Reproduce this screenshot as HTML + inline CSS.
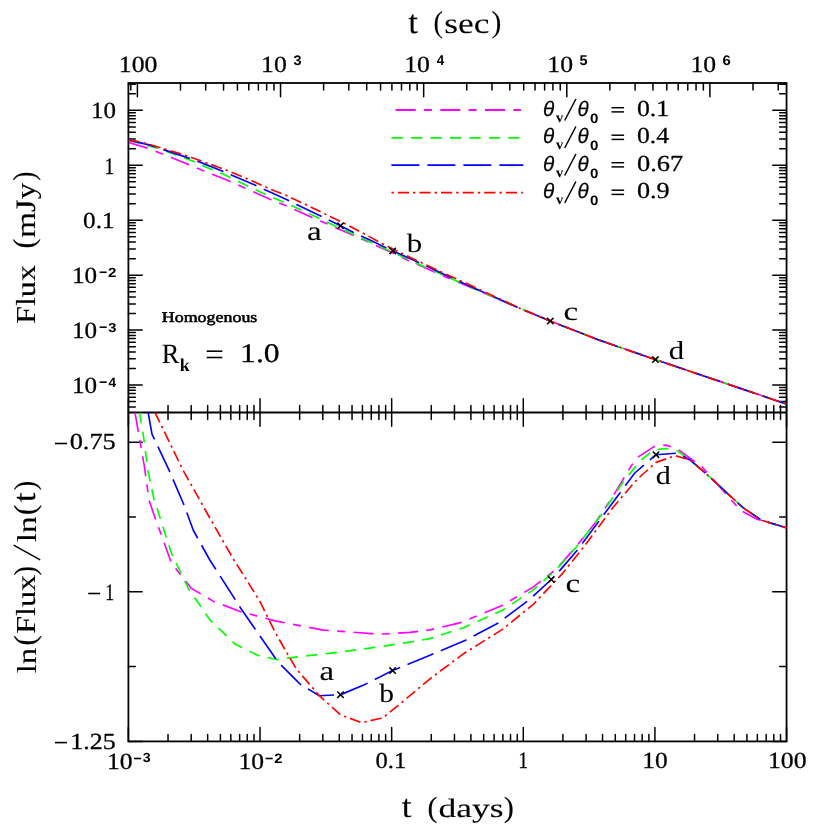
<!DOCTYPE html>
<html><head><meta charset="utf-8"><title>Light curves</title>
<style>html,body{margin:0;padding:0;background:#fff}svg{display:block}
text{fill:#000;text-rendering:geometricPrecision}
.s,.sb{font-family:"Liberation Serif",serif}.n,.nb,.ni{font-family:"Liberation Sans",sans-serif}
.sb,.nb{font-weight:bold}.ni{font-style:italic}</style></head>
<body><svg width="830" height="830" viewBox="0 0 830 830">
<rect width="830" height="830" fill="#fff"/>
<defs><clipPath id="ct"><rect x="128.4" y="83.0" width="658.15" height="329.50"/></clipPath>
<clipPath id="cb"><rect x="128.4" y="412.5" width="658.15" height="328.90"/></clipPath></defs>
<g style="opacity:0.999">
<rect x="128.4" y="83.0" width="658.15" height="658.40" fill="none" stroke="#000" stroke-width="1.8"/>
<line x1="128.40" y1="412.50" x2="786.55" y2="412.50" stroke="#000" stroke-width="1.8"/>
<path d="M128.40 741.40L128.40 727.60M128.40 398.70L128.40 426.30M168.02 741.40L168.02 734.50M168.02 405.60L168.02 419.40M191.20 741.40L191.20 734.50M191.20 405.60L191.20 419.40M207.65 741.40L207.65 734.50M207.65 405.60L207.65 419.40M220.41 741.40L220.41 734.50M220.41 405.60L220.41 419.40M230.83 741.40L230.83 734.50M230.83 405.60L230.83 419.40M239.64 741.40L239.64 734.50M239.64 405.60L239.64 419.40M247.27 741.40L247.27 734.50M247.27 405.60L247.27 419.40M254.01 741.40L254.01 734.50M254.01 405.60L254.01 419.40M260.03 741.40L260.03 727.60M260.03 398.70L260.03 426.30M299.65 741.40L299.65 734.50M299.65 405.60L299.65 419.40M322.83 741.40L322.83 734.50M322.83 405.60L322.83 419.40M339.28 741.40L339.28 734.50M339.28 405.60L339.28 419.40M352.04 741.40L352.04 734.50M352.04 405.60L352.04 419.40M362.46 741.40L362.46 734.50M362.46 405.60L362.46 419.40M371.27 741.40L371.27 734.50M371.27 405.60L371.27 419.40M378.90 741.40L378.90 734.50M378.90 405.60L378.90 419.40M385.64 741.40L385.64 734.50M385.64 405.60L385.64 419.40M391.66 741.40L391.66 727.60M391.66 398.70L391.66 426.30M431.28 741.40L431.28 734.50M431.28 405.60L431.28 419.40M454.46 741.40L454.46 734.50M454.46 405.60L454.46 419.40M470.91 741.40L470.91 734.50M470.91 405.60L470.91 419.40M483.67 741.40L483.67 734.50M483.67 405.60L483.67 419.40M494.09 741.40L494.09 734.50M494.09 405.60L494.09 419.40M502.90 741.40L502.90 734.50M502.90 405.60L502.90 419.40M510.53 741.40L510.53 734.50M510.53 405.60L510.53 419.40M517.27 741.40L517.27 734.50M517.27 405.60L517.27 419.40M523.29 741.40L523.29 727.60M523.29 398.70L523.29 426.30M562.91 741.40L562.91 734.50M562.91 405.60L562.91 419.40M586.09 741.40L586.09 734.50M586.09 405.60L586.09 419.40M602.54 741.40L602.54 734.50M602.54 405.60L602.54 419.40M615.30 741.40L615.30 734.50M615.30 405.60L615.30 419.40M625.72 741.40L625.72 734.50M625.72 405.60L625.72 419.40M634.53 741.40L634.53 734.50M634.53 405.60L634.53 419.40M642.16 741.40L642.16 734.50M642.16 405.60L642.16 419.40M648.90 741.40L648.90 734.50M648.90 405.60L648.90 419.40M654.92 741.40L654.92 727.60M654.92 398.70L654.92 426.30M694.54 741.40L694.54 734.50M694.54 405.60L694.54 419.40M717.72 741.40L717.72 734.50M717.72 405.60L717.72 419.40M734.17 741.40L734.17 734.50M734.17 405.60L734.17 419.40M746.93 741.40L746.93 734.50M746.93 405.60L746.93 419.40M757.35 741.40L757.35 734.50M757.35 405.60L757.35 419.40M766.16 741.40L766.16 734.50M766.16 405.60L766.16 419.40M773.79 741.40L773.79 734.50M773.79 405.60L773.79 419.40M780.53 741.40L780.53 734.50M780.53 405.60L780.53 419.40M786.55 741.40L786.55 727.60M786.55 398.70L786.55 426.30M130.85 83.00L130.85 89.90M137.40 83.00L137.40 96.80M180.49 83.00L180.49 89.90M205.69 83.00L205.69 89.90M223.57 83.00L223.57 89.90M237.44 83.00L237.44 89.90M248.78 83.00L248.78 89.90M258.36 83.00L258.36 89.90M266.66 83.00L266.66 89.90M273.98 83.00L273.98 89.90M280.53 83.00L280.53 96.80M323.62 83.00L323.62 89.90M348.82 83.00L348.82 89.90M366.70 83.00L366.70 89.90M380.57 83.00L380.57 89.90M391.91 83.00L391.91 89.90M401.49 83.00L401.49 89.90M409.79 83.00L409.79 89.90M417.11 83.00L417.11 89.90M423.66 83.00L423.66 96.80M466.75 83.00L466.75 89.90M491.95 83.00L491.95 89.90M509.83 83.00L509.83 89.90M523.70 83.00L523.70 89.90M535.04 83.00L535.04 89.90M544.62 83.00L544.62 89.90M552.92 83.00L552.92 89.90M560.24 83.00L560.24 89.90M566.79 83.00L566.79 96.80M609.88 83.00L609.88 89.90M635.08 83.00L635.08 89.90M652.96 83.00L652.96 89.90M666.83 83.00L666.83 89.90M678.17 83.00L678.17 89.90M687.75 83.00L687.75 89.90M696.05 83.00L696.05 89.90M703.37 83.00L703.37 89.90M709.92 83.00L709.92 96.80M753.01 83.00L753.01 89.90M778.21 83.00L778.21 89.90M128.40 406.91L135.30 406.91M786.55 406.91L779.65 406.91M128.40 401.59L135.30 401.59M786.55 401.59L779.65 401.59M128.40 397.24L135.30 397.24M786.55 397.24L779.65 397.24M128.40 393.56L135.30 393.56M786.55 393.56L779.65 393.56M128.40 390.37L135.30 390.37M786.55 390.37L779.65 390.37M128.40 387.56L135.30 387.56M786.55 387.56L779.65 387.56M128.40 385.05L142.20 385.05M786.55 385.05L772.75 385.05M128.40 368.51L135.30 368.51M786.55 368.51L779.65 368.51M128.40 358.84L135.30 358.84M786.55 358.84L779.65 358.84M128.40 351.97L135.30 351.97M786.55 351.97L779.65 351.97M128.40 346.65L135.30 346.65M786.55 346.65L779.65 346.65M128.40 342.30L135.30 342.30M786.55 342.30L779.65 342.30M128.40 338.62L135.30 338.62M786.55 338.62L779.65 338.62M128.40 335.43L135.30 335.43M786.55 335.43L779.65 335.43M128.40 332.62L135.30 332.62M786.55 332.62L779.65 332.62M128.40 330.11L142.20 330.11M786.55 330.11L772.75 330.11M128.40 313.57L135.30 313.57M786.55 313.57L779.65 313.57M128.40 303.90L135.30 303.90M786.55 303.90L779.65 303.90M128.40 297.03L135.30 297.03M786.55 297.03L779.65 297.03M128.40 291.71L135.30 291.71M786.55 291.71L779.65 291.71M128.40 287.36L135.30 287.36M786.55 287.36L779.65 287.36M128.40 283.68L135.30 283.68M786.55 283.68L779.65 283.68M128.40 280.49L135.30 280.49M786.55 280.49L779.65 280.49M128.40 277.68L135.30 277.68M786.55 277.68L779.65 277.68M128.40 275.17L142.20 275.17M786.55 275.17L772.75 275.17M128.40 258.63L135.30 258.63M786.55 258.63L779.65 258.63M128.40 248.96L135.30 248.96M786.55 248.96L779.65 248.96M128.40 242.09L135.30 242.09M786.55 242.09L779.65 242.09M128.40 236.77L135.30 236.77M786.55 236.77L779.65 236.77M128.40 232.42L135.30 232.42M786.55 232.42L779.65 232.42M128.40 228.74L135.30 228.74M786.55 228.74L779.65 228.74M128.40 225.55L135.30 225.55M786.55 225.55L779.65 225.55M128.40 222.74L135.30 222.74M786.55 222.74L779.65 222.74M128.40 220.23L142.20 220.23M786.55 220.23L772.75 220.23M128.40 203.69L135.30 203.69M786.55 203.69L779.65 203.69M128.40 194.02L135.30 194.02M786.55 194.02L779.65 194.02M128.40 187.15L135.30 187.15M786.55 187.15L779.65 187.15M128.40 181.83L135.30 181.83M786.55 181.83L779.65 181.83M128.40 177.48L135.30 177.48M786.55 177.48L779.65 177.48M128.40 173.80L135.30 173.80M786.55 173.80L779.65 173.80M128.40 170.61L135.30 170.61M786.55 170.61L779.65 170.61M128.40 167.80L135.30 167.80M786.55 167.80L779.65 167.80M128.40 165.29L142.20 165.29M786.55 165.29L772.75 165.29M128.40 148.75L135.30 148.75M786.55 148.75L779.65 148.75M128.40 139.08L135.30 139.08M786.55 139.08L779.65 139.08M128.40 132.21L135.30 132.21M786.55 132.21L779.65 132.21M128.40 126.89L135.30 126.89M786.55 126.89L779.65 126.89M128.40 122.54L135.30 122.54M786.55 122.54L779.65 122.54M128.40 118.86L135.30 118.86M786.55 118.86L779.65 118.86M128.40 115.67L135.30 115.67M786.55 115.67L779.65 115.67M128.40 112.86L135.30 112.86M786.55 112.86L779.65 112.86M128.40 110.35L142.20 110.35M786.55 110.35L772.75 110.35M128.40 93.81L135.30 93.81M786.55 93.81L779.65 93.81M128.40 84.14L135.30 84.14M786.55 84.14L779.65 84.14M128.40 442.20L142.20 442.20M786.55 442.20L772.75 442.20M128.40 517.00L135.30 517.00M786.55 517.00L779.65 517.00M128.40 591.80L142.20 591.80M786.55 591.80L772.75 591.80M128.40 666.60L135.30 666.60M786.55 666.60L779.65 666.60M128.40 741.40L142.20 741.40M786.55 741.40L772.75 741.40" stroke="#000" stroke-width="1.5" stroke-linecap="round" fill="none"/>
<g clip-path="url(#cb)">
<path d="M135.0 412.3L139.5 438.9L144.3 465.9L149.1 500.6L155.8 519.9L163.6 541.1L170.3 560.0L176.1 569.0L191.5 588.5L213.7 601.4L240.7 611.7L275.0 620.9L323.2 630.1L371.4 633.6L383.0 634.0L409.9 632.4L430.0 629.9L459.7 622.9L502.1 605.5L533.0 587.2L556.3 569.2L575.8 546.9L594.3 524.1L613.6 495.2L630.9 466.3L638.6 456.6L654.0 446.6L665.6 445.1L677.2 448.9L690.0 458.2L701.6 466.4L714.0 480.3L731.4 500.3L741.1 510.7L757.5 519.4L761.6 520.3L785.4 527.5L786.8 527.8" fill="none" stroke="#ff00ff" stroke-width="1.65" stroke-dasharray="20 8.3 8 8.4" stroke-linejoin="round"/>
<path d="M139.5 412.3L143.3 435.1L148.1 471.7L153.9 498.7L162.6 525.7L171.3 552.7L179.0 569.0L188.6 588.9L209.8 619.8L234.9 643.9L258.0 655.4L277.3 659.7L286.6 658.1L332.8 652.9L371.4 647.9L409.9 642.1L430.0 638.6L463.6 627.7L502.1 610.4L533.0 590.1L556.3 569.6L575.8 547.6L600.1 516.4L623.2 481.7L640.5 460.5L654.0 449.9L665.6 448.5L677.2 450.8L690.0 459.9L709.9 477.1L729.8 495.7L743.0 507.6L761.6 520.2L785.4 527.5L786.8 527.8" fill="none" stroke="#00ff00" stroke-width="1.65" stroke-dasharray="11.3 8.2" stroke-linejoin="round"/>
<path d="M148.1 412.3L152.0 434.1L169.3 470.7L183.8 504.5L193.4 530.5L209.8 560.0L215.6 569.0L240.7 608.2L275.4 658.3L280.8 664.8L300.1 684.1L319.3 695.7L340.5 694.7L363.7 685.1L392.6 670.6L430.0 655.2L465.5 640.2L498.3 622.9L529.1 599.8L551.3 579.5L560.6 569.6L578.0 549.3L603.9 514.5L634.8 473.0L656.0 454.7L677.2 453.2L690.0 459.9L709.9 477.1L729.8 495.7L743.0 507.6L761.6 520.2L785.4 527.5L786.8 527.8" fill="none" stroke="#0000ff" stroke-width="1.65" stroke-dasharray="28 8" stroke-linejoin="round"/>
<path d="M154.9 412.3L182.8 469.8L209.8 518.0L233.9 560.0L239.7 569.0L259.9 601.4L275.0 632.0L285.0 649.6L296.2 668.7L319.3 695.7L340.5 714.9L361.7 722.7L383.0 717.8L409.9 695.7L430.0 678.8L463.6 653.7L502.1 629.6L533.0 604.6L561.7 574.4L584.5 546.0L613.6 506.7L636.7 479.8L656.0 462.4L675.2 455.7L690.0 459.9L709.9 477.1L729.8 495.7L743.0 507.6L761.6 520.2L785.4 527.5L786.8 527.8" fill="none" stroke="#ff0000" stroke-width="1.65" stroke-dasharray="11.2 4 2.4 4" stroke-linejoin="round"/>
</g><g clip-path="url(#ct)">
<path d="M128.6 142.5L146.7 147.9L162.3 153.9L187.7 164.2L203.3 170.8L225.0 179.2L270.0 199.3L285.7 205.6L311.0 217.0L337.5 228.4L351.9 234.7L370.0 242.6L407.2 259.9L446.9 277.4L465.0 285.0L521.4 309.0L550.3 321.1L600.0 340.4L655.4 359.6L785.5 403.7L786.8 404.1" fill="none" stroke="#ff00ff" stroke-width="1.65" stroke-dasharray="20 8.3 8 8.4" stroke-linejoin="round"/>
<path d="M128.6 140.3L156.3 147.9L173.2 153.9L192.5 161.1L209.3 168.4L225.0 175.0L244.5 184.5L272.4 197.5L298.9 208.9L318.2 218.0L353.1 234.2L370.0 241.9L421.6 265.4L456.6 281.0L465.0 284.6L521.4 309.0L550.3 321.1L600.0 340.4L655.4 359.6L785.5 403.7L786.8 404.1" fill="none" stroke="#00ff00" stroke-width="1.65" stroke-dasharray="11.3 8.2" stroke-linejoin="round"/>
<path d="M128.6 140.1L149.1 144.9L167.2 150.9L188.9 158.1L197.3 161.1L221.4 170.8L254.2 184.8L270.0 192.0L288.1 200.2L296.5 204.5L320.6 215.9L340.5 225.8L353.1 232.2L370.0 240.1L392.7 250.9L415.6 261.1L465.0 284.0L521.4 309.0L550.3 321.1L600.0 340.4L655.4 359.6L785.5 403.7L786.8 404.1" fill="none" stroke="#0000ff" stroke-width="1.65" stroke-dasharray="28 8" stroke-linejoin="round"/>
<path d="M128.6 140.1L137.0 141.3L149.1 144.3L161.1 147.9L179.2 153.3L191.3 157.5L203.3 161.7L225.0 169.6L252.2 180.9L275.0 191.1L285.7 195.1L306.1 204.7L324.2 213.6L342.3 222.3L364.0 233.7L381.9 243.5L401.1 253.0L419.2 261.7L437.3 270.2L465.0 282.8L521.4 309.0L550.3 321.1L600.0 340.4L655.4 359.6L785.5 403.7L786.8 404.1" fill="none" stroke="#ff0000" stroke-width="1.65" stroke-dasharray="11.2 4 2.4 4" stroke-linejoin="round"/>
</g>
<path d="M337.3 222.6L343.7 229.0M337.3 229.0L343.7 222.6" stroke="#000" stroke-width="1.5" fill="none"/>
<path d="M389.5 247.7L395.9 254.1M389.5 254.1L395.9 247.7" stroke="#000" stroke-width="1.5" fill="none"/>
<path d="M547.1 317.9L553.5 324.3M547.1 324.3L553.5 317.9" stroke="#000" stroke-width="1.5" fill="none"/>
<path d="M652.2 356.4L658.6 362.8M652.2 362.8L658.6 356.4" stroke="#000" stroke-width="1.5" fill="none"/>
<path d="M337.3 691.5L343.7 697.9M337.3 697.9L343.7 691.5" stroke="#000" stroke-width="1.5" fill="none"/>
<path d="M389.4 667.4L395.8 673.8M389.4 673.8L395.8 667.4" stroke="#000" stroke-width="1.5" fill="none"/>
<path d="M548.1 576.3L554.5 582.7M548.1 582.7L554.5 576.3" stroke="#000" stroke-width="1.5" fill="none"/>
<path d="M652.8 451.5L659.2 457.9M652.8 457.9L659.2 451.5" stroke="#000" stroke-width="1.5" fill="none"/>
<path d="M395.6 110.0L520.9 110.0" stroke="#ff00ff" stroke-width="1.8" stroke-dasharray="20 8.3 8 8.4" fill="none"/>
<path d="M391.4 137.8L519.4 137.8" stroke="#00ff00" stroke-width="1.8" stroke-dasharray="11.3 8.2" fill="none"/>
<path d="M391.4 165.2L523.4 165.2" stroke="#0000ff" stroke-width="1.8" stroke-dasharray="28 8" fill="none"/>
<path d="M391.4 192.7L522.8 192.7" stroke="#ff0000" stroke-width="1.8" stroke-dasharray="2.4 4 11.2 4" fill="none"/>
<text class="ni" font-size="21.04" transform="translate(543.10,115.77) scale(0.9865,1)" stroke="#000" stroke-width="0.25">θ</text>
<text class="sb" font-size="14.08" transform="translate(556.10,121.96) scale(1.0227,1)">v</text>
<line x1="564.70" y1="120.50" x2="575.90" y2="99.00" stroke="#000" stroke-width="1.5"/>
<text class="ni" font-size="21.04" transform="translate(577.51,115.77) scale(0.9769,1)" stroke="#000" stroke-width="0.25">θ</text>
<text class="nb" font-size="13.56" transform="translate(590.10,122.57) scale(1.1165,1)">0</text>
<line x1="611.50" y1="107.70" x2="624.10" y2="107.70" stroke="#000" stroke-width="1.5"/>
<line x1="611.50" y1="111.90" x2="624.10" y2="111.90" stroke="#000" stroke-width="1.5"/>
<text class="s" font-size="22.97" transform="translate(636.99,115.62) scale(1.1212,1)" stroke="#000" stroke-width="0.3">0.1</text>
<text class="ni" font-size="21.04" transform="translate(543.10,143.27) scale(0.9865,1)" stroke="#000" stroke-width="0.25">θ</text>
<text class="sb" font-size="14.08" transform="translate(556.10,149.46) scale(1.0227,1)">v</text>
<line x1="564.70" y1="148.00" x2="575.90" y2="126.50" stroke="#000" stroke-width="1.5"/>
<text class="ni" font-size="21.04" transform="translate(577.51,143.27) scale(0.9769,1)" stroke="#000" stroke-width="0.25">θ</text>
<text class="nb" font-size="13.56" transform="translate(590.10,150.07) scale(1.1165,1)">0</text>
<line x1="611.50" y1="135.20" x2="624.10" y2="135.20" stroke="#000" stroke-width="1.5"/>
<line x1="611.50" y1="139.40" x2="624.10" y2="139.40" stroke="#000" stroke-width="1.5"/>
<text class="s" font-size="22.97" transform="translate(636.99,143.12) scale(1.1160,1)" stroke="#000" stroke-width="0.3">0.4</text>
<text class="ni" font-size="21.04" transform="translate(543.10,170.77) scale(0.9865,1)" stroke="#000" stroke-width="0.25">θ</text>
<text class="sb" font-size="14.08" transform="translate(556.10,176.96) scale(1.0227,1)">v</text>
<line x1="564.70" y1="175.50" x2="575.90" y2="154.00" stroke="#000" stroke-width="1.5"/>
<text class="ni" font-size="21.04" transform="translate(577.51,170.77) scale(0.9769,1)" stroke="#000" stroke-width="0.25">θ</text>
<text class="nb" font-size="13.56" transform="translate(590.10,177.57) scale(1.1165,1)">0</text>
<line x1="611.50" y1="162.70" x2="624.10" y2="162.70" stroke="#000" stroke-width="1.5"/>
<line x1="611.50" y1="166.90" x2="624.10" y2="166.90" stroke="#000" stroke-width="1.5"/>
<text class="s" font-size="22.97" transform="translate(636.97,170.62) scale(1.1500,1)" stroke="#000" stroke-width="0.3">0.67</text>
<text class="ni" font-size="21.04" transform="translate(543.10,198.27) scale(0.9865,1)" stroke="#000" stroke-width="0.25">θ</text>
<text class="sb" font-size="14.08" transform="translate(556.10,204.46) scale(1.0227,1)">v</text>
<line x1="564.70" y1="203.00" x2="575.90" y2="181.50" stroke="#000" stroke-width="1.5"/>
<text class="ni" font-size="21.04" transform="translate(577.51,198.27) scale(0.9769,1)" stroke="#000" stroke-width="0.25">θ</text>
<text class="nb" font-size="13.56" transform="translate(590.10,205.07) scale(1.1165,1)">0</text>
<line x1="611.50" y1="190.20" x2="624.10" y2="190.20" stroke="#000" stroke-width="1.5"/>
<line x1="611.50" y1="194.40" x2="624.10" y2="194.40" stroke="#000" stroke-width="1.5"/>
<text class="s" font-size="22.97" transform="translate(636.97,198.12) scale(1.1400,1)" stroke="#000" stroke-width="0.3">0.9</text>
<text class="s" font-size="23.12" transform="translate(118.80,71.52) scale(1.1134,1)" stroke="#000" stroke-width="0.3">100</text>
<text class="s" font-size="23.12" transform="translate(261.04,71.52) scale(1.1119,1)" stroke="#000" stroke-width="0.3">10</text>
<text class="nb" font-size="13.81" transform="translate(293.40,65.04) scale(1.0486,1)">3</text>
<text class="s" font-size="23.12" transform="translate(404.17,71.52) scale(1.1119,1)" stroke="#000" stroke-width="0.3">10</text>
<text class="nb" font-size="14.24" transform="translate(436.66,65.20) scale(0.9436,1)">4</text>
<text class="s" font-size="23.12" transform="translate(547.30,71.52) scale(1.1119,1)" stroke="#000" stroke-width="0.3">10</text>
<text class="nb" font-size="14.05" transform="translate(579.54,65.06) scale(1.0303,1)">5</text>
<text class="s" font-size="23.12" transform="translate(690.43,71.52) scale(1.1119,1)" stroke="#000" stroke-width="0.3">10</text>
<text class="nb" font-size="13.84" transform="translate(722.57,65.06) scale(1.0760,1)">6</text>
<text class="s" font-size="23.12" transform="translate(90.92,118.37) scale(1.0802,1)" stroke="#000" stroke-width="0.3">10</text>
<text class="s" font-size="23.63" transform="translate(104.51,173.54) scale(0.8237,1)" stroke="#000" stroke-width="0.3">1</text>
<text class="s" font-size="22.97" transform="translate(83.11,228.15) scale(1.0951,1)" stroke="#000" stroke-width="0.3">0.1</text>
<text class="s" font-size="23.12" transform="translate(72.05,283.19) scale(1.0875,1)" stroke="#000" stroke-width="0.3">10</text>
<line x1="99.60" y1="272.27" x2="106.70" y2="272.27" stroke="#000" stroke-width="1.6"/>
<text class="nb" font-size="13.18" transform="translate(108.07,276.87) scale(1.1507,1)">2</text>
<text class="s" font-size="23.12" transform="translate(72.05,338.13) scale(1.0875,1)" stroke="#000" stroke-width="0.3">10</text>
<line x1="99.60" y1="327.21" x2="106.70" y2="327.21" stroke="#000" stroke-width="1.6"/>
<text class="nb" font-size="12.97" transform="translate(108.26,331.66) scale(1.1325,1)">3</text>
<text class="s" font-size="23.12" transform="translate(72.05,393.07) scale(1.0875,1)" stroke="#000" stroke-width="0.3">10</text>
<line x1="99.60" y1="382.15" x2="106.70" y2="382.15" stroke="#000" stroke-width="1.6"/>
<text class="nb" font-size="13.37" transform="translate(108.39,386.75) scale(1.0191,1)">4</text>
<line x1="54.90" y1="443.50" x2="67.00" y2="443.50" stroke="#000" stroke-width="1.6"/>
<text class="s" font-size="22.97" transform="translate(69.67,449.42) scale(1.1466,1)" stroke="#000" stroke-width="0.3">0.75</text>
<line x1="88.20" y1="593.50" x2="100.20" y2="593.50" stroke="#000" stroke-width="1.6"/>
<text class="s" font-size="23.63" transform="translate(105.25,599.75) scale(0.7541,1)" stroke="#000" stroke-width="0.3">1</text>
<line x1="54.90" y1="742.60" x2="67.00" y2="742.60" stroke="#000" stroke-width="1.6"/>
<text class="s" font-size="23.07" transform="translate(70.19,748.52) scale(1.1261,1)" stroke="#000" stroke-width="0.3">1.25</text>
<text class="s" font-size="23.12" transform="translate(106.92,768.92) scale(1.1070,1)" stroke="#000" stroke-width="0.3">10</text>
<line x1="134.00" y1="758.50" x2="141.10" y2="758.50" stroke="#000" stroke-width="1.6"/>
<text class="nb" font-size="13.25" transform="translate(142.87,762.45) scale(1.0780,1)">3</text>
<text class="s" font-size="23.12" transform="translate(238.52,768.92) scale(1.1070,1)" stroke="#000" stroke-width="0.3">10</text>
<line x1="265.60" y1="758.50" x2="272.70" y2="758.50" stroke="#000" stroke-width="1.6"/>
<text class="nb" font-size="13.46" transform="translate(274.29,762.60) scale(1.0954,1)">2</text>
<text class="s" font-size="22.97" transform="translate(375.53,768.02) scale(1.0689,1)" stroke="#000" stroke-width="0.3">0.1</text>
<text class="s" font-size="23.63" transform="translate(518.19,768.35) scale(0.8353,1)" stroke="#000" stroke-width="0.3">1</text>
<text class="s" font-size="23.12" transform="translate(642.34,768.12) scale(1.0973,1)" stroke="#000" stroke-width="0.3">10</text>
<text class="s" font-size="23.12" transform="translate(767.90,768.12) scale(1.1134,1)" stroke="#000" stroke-width="0.3">100</text>
<text class="s" font-size="33.00" transform="translate(408.31,32.53) scale(1.0625,1)" stroke="#000" stroke-width="0.1">t</text>
<text class="s" font-size="30.11" transform="translate(433.50,32.24) scale(0.9447,1)" stroke="#000" stroke-width="0.1">(</text>
<text class="s" font-size="28.69" transform="translate(444.31,32.77) scale(1.2342,1)" stroke="#000" stroke-width="0.1">sec</text>
<text class="s" font-size="30.11" transform="translate(491.50,32.24) scale(0.9830,1)" stroke="#000" stroke-width="0.1">)</text>
<text class="s" font-size="32.13" transform="translate(401.71,817.44) scale(1.1027,1)" stroke="#000" stroke-width="0.1">t</text>
<text class="s" font-size="29.23" transform="translate(427.43,816.93) scale(1.0255,1)" stroke="#000" stroke-width="0.1">(</text>
<text class="s" font-size="26.49" transform="translate(438.38,817.43) scale(1.3412,1)" stroke="#000" stroke-width="0.1">days</text>
<text class="s" font-size="29.23" transform="translate(503.67,816.93) scale(1.0386,1)" stroke="#000" stroke-width="0.1">)</text>
<text class="s" font-size="27.43" transform="translate(35.50,323.10) rotate(-90) translate(-0.87,-0.12) scale(1.1728,1)" stroke="#000" stroke-width="0.1">Flux</text>
<text class="s" font-size="30.55" transform="translate(35.50,247.30) rotate(-90) translate(-1.27,-1.15) scale(0.9816,1)" stroke="#000" stroke-width="0.1">(</text>
<text class="s" font-size="28.14" transform="translate(35.50,237.10) rotate(-90) translate(-0.63,-0.72) scale(1.1703,1)" stroke="#000" stroke-width="0.1">mJy</text>
<text class="s" font-size="30.55" transform="translate(35.50,179.90) rotate(-90) translate(-0.85,-1.15) scale(0.9061,1)" stroke="#000" stroke-width="0.1">)</text>
<text class="s" font-size="27.24" transform="translate(35.60,672.70) rotate(-90) translate(-0.60,-0.05) scale(1.2051,1)" stroke="#000" stroke-width="0.1">ln</text>
<text class="s" font-size="30.55" transform="translate(35.60,644.20) rotate(-90) translate(-1.28,-1.05) scale(0.9942,1)" stroke="#000" stroke-width="0.1">(</text>
<text class="s" font-size="27.43" transform="translate(35.60,633.00) rotate(-90) translate(-0.87,-0.12) scale(1.1708,1)" stroke="#000" stroke-width="0.1">Flux</text>
<text class="s" font-size="30.55" transform="translate(35.60,574.70) rotate(-90) translate(-0.86,-1.05) scale(0.9187,1)" stroke="#000" stroke-width="0.1">)</text>
<line x1="40.20" y1="559.80" x2="13.60" y2="545.20" stroke="#000" stroke-width="1.5"/>
<text class="s" font-size="27.24" transform="translate(35.60,541.60) rotate(-90) translate(-0.60,-0.05) scale(1.2100,1)" stroke="#000" stroke-width="0.1">ln</text>
<text class="s" font-size="30.55" transform="translate(35.60,513.70) rotate(-90) translate(-1.28,-1.05) scale(0.9942,1)" stroke="#000" stroke-width="0.1">(</text>
<text class="s" font-size="32.30" transform="translate(35.60,501.80) rotate(-90) translate(-0.28,-0.17) scale(1.0502,1)" stroke="#000" stroke-width="0.1">t</text>
<text class="s" font-size="30.55" transform="translate(35.60,489.60) rotate(-90) translate(-0.91,-1.05) scale(0.9690,1)" stroke="#000" stroke-width="0.1">)</text>
<text class="s" font-size="26.93" transform="translate(306.90,240.29) scale(1.2292,1)" stroke="#000" stroke-width="0.1">a</text>
<text class="s" font-size="26.43" transform="translate(406.66,251.79) scale(1.1697,1)" stroke="#000" stroke-width="0.1">b</text>
<text class="s" font-size="26.41" transform="translate(563.61,320.29) scale(1.2497,1)" stroke="#000" stroke-width="0.1">c</text>
<text class="s" font-size="25.87" transform="translate(668.85,359.10) scale(1.1882,1)" stroke="#000" stroke-width="0.1">d</text>
<text class="s" font-size="27.77" transform="translate(319.60,679.78) scale(1.1835,1)" stroke="#000" stroke-width="0.1">a</text>
<text class="s" font-size="26.15" transform="translate(379.16,702.29) scale(1.1249,1)" stroke="#000" stroke-width="0.1">b</text>
<text class="s" font-size="26.20" transform="translate(565.51,591.89) scale(1.2595,1)" stroke="#000" stroke-width="0.1">c</text>
<text class="s" font-size="25.87" transform="translate(655.87,483.90) scale(1.1627,1)" stroke="#000" stroke-width="0.1">d</text>
<text class="s" font-size="14.87" transform="translate(161.81,322.31) scale(1.2051,1)" stroke="#000" stroke-width="0.55">Homogenous</text>
<text class="s" font-size="27.95" transform="translate(161.79,362.55) scale(0.9388,1)" stroke="#000" stroke-width="0.1">R</text>
<text class="sb" font-size="18.02" transform="translate(179.66,370.80) scale(0.9848,1)">k</text>
<line x1="206.70" y1="351.20" x2="222.30" y2="351.20" stroke="#000" stroke-width="1.6"/>
<line x1="206.70" y1="357.50" x2="222.30" y2="357.50" stroke="#000" stroke-width="1.6"/>
<text class="s" font-size="26.94" transform="translate(240.09,362.27) scale(1.1770,1)" stroke="#000" stroke-width="0.3">1.0</text>
</g>
</svg></body></html>
